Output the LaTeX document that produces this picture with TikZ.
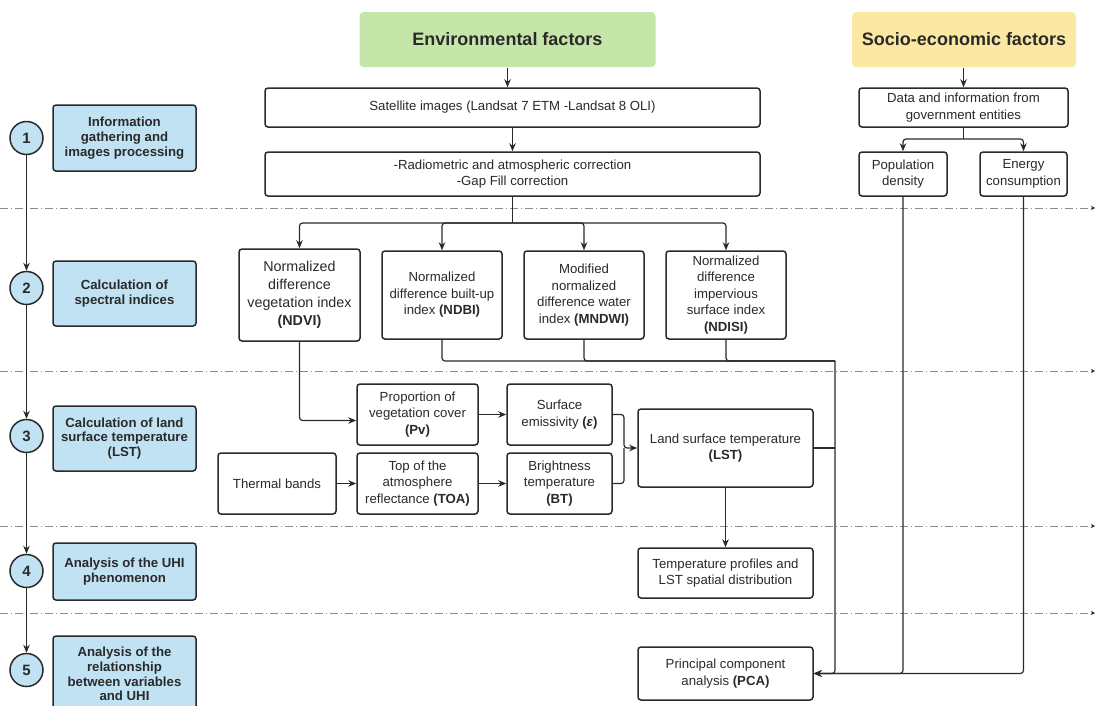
\documentclass[tikz,border=0pt]{standalone}
\usepackage{fontspec}
\setmainfont{Liberation Sans}
\usetikzlibrary{arrows.meta,positioning}

\definecolor{envgreen}{HTML}{C6E5A8}
\definecolor{socyellow}{HTML}{FBE8A2}
\definecolor{stepblue}{HTML}{C0E2F2}
\definecolor{linegray}{HTML}{2A2A2A}
\definecolor{sepgray}{HTML}{8C8C8C}

\begin{document}
\begin{tikzpicture}[x=1pt,y=-1pt,>={Stealth[length=8pt,width=6.5pt]},color=linegray,line width=1.2pt,
	box/.style={draw,line width=1.5pt,rounded corners=3pt,fill=white,align=center,inner sep=2pt,font=\fontsize{13.2}{16.5}\selectfont},
	index/.style={box,minimum width=120pt,minimum height=88pt},
	factor/.style={rounded corners=4pt,minimum height=55pt,font=\fontsize{18}{21}\selectfont\bfseries},
	phase/.style={draw,line width=1.5pt,fill=stepblue,rounded corners=3pt,align=center,minimum width=143pt,font=\fontsize{13.2}{14.7}\selectfont\bfseries},
	num/.style={circle,draw,line width=1.5pt,fill=stepblue,minimum size=33pt,inner sep=0pt,font=\fontsize{15}{15}\selectfont\bfseries},
	link/.style={draw,rounded corners=3pt},
	sep/.style={draw=sepgray,line width=0.9pt,dash pattern=on 8pt off 3pt on 1pt off 3pt}]
	\useasboundingbox (0,0) rectangle (1096,705);
	\clip (0,0) rectangle (1096,705);

	\foreach \y in {208,371,526,613}
		\draw[sep,-{Stealth[length=4pt,width=4pt,linegray]}] (0,\y) -- (1095,\y);

	\node[factor,fill=envgreen,minimum width=296pt] (env) at (507.5,39.5) {Environmental factors};
	\node[factor,fill=socyellow,minimum width=224pt] (soc) at (964,39.5) {Socio-economic factors};

	\node[box,minimum width=495pt,minimum height=39pt] (sat) at (512.5,107.5) {Satellite images (Landsat 7 ETM -Landsat 8 OLI)};
	\node[box,minimum width=495pt,minimum height=44pt] (corr) at (512.5,174) {-Radiometric and atmospheric correction\\-Gap Fill correction};
	\node[box,minimum width=209pt,minimum height=39pt] (data) at (963.5,107.5) {Data and information from\\government entities};
	\node[box,minimum width=88pt,minimum height=44pt] (pop) at (903,174) {Population\\density};
	\node[box,minimum width=87pt,minimum height=44pt] (energy) at (1023.5,174) {Energy\\consumption};

	\node[box,minimum width=121pt,minimum height=92pt,font=\fontsize{14.3}{18}\selectfont] (ndvi) at (299.5,295) {Normalized\\difference\\vegetation index\\\textbf{(NDVI)}};
	\node[index] (ndbi) at (442,295) {Normalized\\difference built-up\\index \textbf{(NDBI)}};
	\node[index] (mndwi) at (584,295) {Modified\\normalized\\difference water\\index \textbf{(MNDWI)}};
	\node[index] (ndisi) at (726,295) {Normalized\\difference\\impervious\\surface index\\\textbf{(NDISI)}};

	\node[box,minimum width=121pt,minimum height=61pt] (pv) at (417.5,414.5) {Proportion of\\vegetation cover\\\textbf{(Pv)}};
	\node[box,minimum width=105pt,minimum height=61pt] (emis) at (559.5,414.5) {Surface\\emissivity \textbf{(\textit{ε})}};
	\node[box,minimum width=118pt,minimum height=61pt] (therm) at (277,483.5) {Thermal bands};
	\node[box,minimum width=121pt,minimum height=61pt] (toa) at (417.5,483.5) {Top of the\\atmosphere\\reflectance \textbf{(TOA)}};
	\node[box,minimum width=105pt,minimum height=61pt] (bt) at (559.5,483.5) {Brightness\\temperature\\\textbf{(BT)}};
	\node[box,minimum width=175pt,minimum height=78pt] (lst) at (725.5,448) {Land surface temperature\\\textbf{(LST)}};
	\node[box,minimum width=175pt,minimum height=50pt] (prof) at (725.5,573) {Temperature profiles and\\LST spatial distribution};
	\node[box,minimum width=175pt,minimum height=53pt] (pca) at (725.5,673.5) {Principal component\\analysis \textbf{(PCA)}};

	\node[num] (n1) at (26.5,138) {1};
	\node[num] (n2) at (26.5,288) {2};
	\node[num] (n3) at (26.5,436) {3};
	\node[num] (n4) at (26.5,571) {4};
	\node[num] (n5) at (26.5,670) {5};
	\node[phase,minimum height=66pt] (p1) at (124.5,138) {Information\\gathering and\\images processing};
	\node[phase,minimum height=65pt] (p2) at (124.5,293.5) {Calculation of\\spectral indices};
	\node[phase,minimum height=65pt] (p3) at (124.5,438.5) {Calculation of land\\surface temperature\\(LST)};
	\node[phase,minimum height=57pt] (p4) at (124.5,571.5) {Analysis of the UHI\\phenomenon};
	\node[phase,minimum height=76pt] (p5) at (124.5,674) {Analysis of the\\relationship\\between variables\\and UHI};

	\coordinate (split) at (512.5,223);
	\coordinate (gov) at (963.5,139);
	\coordinate (bus) at (835,361);
	\coordinate (join) at (624,448);

	\path[->] (n1) edge (n2)
	(n2) edge (n3)
	(n3) edge (n4)
	(n4) edge (n5)
	(sat) edge (corr)
	(pv) edge (emis)
	(therm) edge (toa)
	(toa) edge (bt)
	(lst) edge (prof)
	;

	\draw[link,->] (env.south) -- (env.south |- sat.north);
	\draw[link,->] (soc.south -| data.north) -- (data.north);
	\draw[link] (corr.south) -- (split);
	\foreach \n in {ndvi,ndbi,mndwi,ndisi}
		\draw[link,->] (split) -| (\n.north);
	\draw[link] (data.south) -- (gov);
	\foreach \n in {pop,energy}
		\draw[link,->] (gov) -| (\n.north);
	\foreach \n in {pop,energy}
		\draw[link,->] (\n.south) |- (pca.east);
	\foreach \n in {ndbi,mndwi,ndisi}
		\draw[link] (\n.south) |- (bus);
	\draw[link,->] (bus) |- (pca.east);
	\draw[link] (lst.east) -- (lst.east -| bus);
	\draw[link,->] (ndvi.south) |- ([yshift=-6pt]pv.west);
	\draw[link,->] (emis.east) -| (join) -- (lst.west);
	\draw[link] (bt.east) -| (join);
\end{tikzpicture}
\end{document}
